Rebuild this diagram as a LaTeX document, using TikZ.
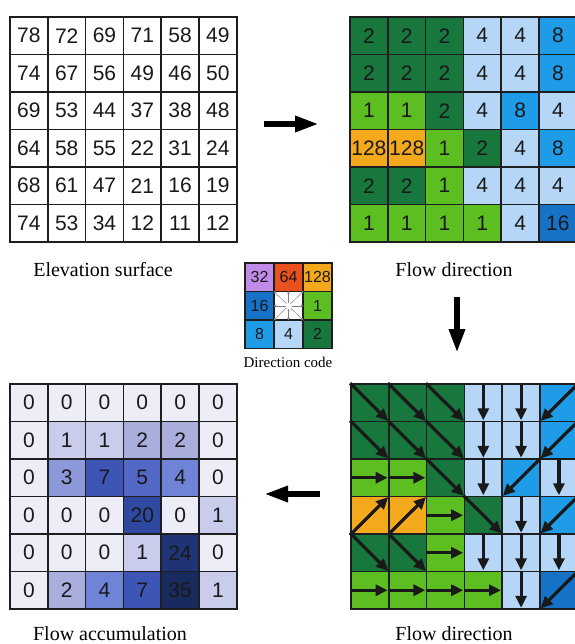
\documentclass[tikz,border=0pt]{standalone}
\usepackage{fontspec}
\setmainfont{Liberation Serif}
\newfontfamily\cellfont{Liberation Sans}
\usetikzlibrary{arrows.meta}

\definecolor{gridline}{HTML}{1E1E1E}
% direction code colours
\definecolor{dc1}{HTML}{5DBE22}
\definecolor{dc2}{HTML}{18773C}
\definecolor{dc4}{HTML}{B5D6F6}
\definecolor{dc8}{HTML}{1F9CE8}
\definecolor{dc16}{HTML}{1672C6}
\definecolor{dc32}{HTML}{C08BE8}
\definecolor{dc64}{HTML}{E9511E}
\definecolor{dc128}{HTML}{F4A91D}
% accumulation colours
\definecolor{ac0}{HTML}{EDEDF8}
\definecolor{ac1}{HTML}{C9CCEB}
\definecolor{ac2}{HTML}{A9AEDC}
\definecolor{ac3}{HTML}{8C98D9}
\definecolor{ac4}{HTML}{6F84D6}
\definecolor{ac5}{HTML}{5468C6}
\definecolor{ac7}{HTML}{3D55B5}
\definecolor{ac20}{HTML}{2F49A0}
\definecolor{ac24}{HTML}{1E3475}
\definecolor{ac35}{HTML}{182A5E}

\pgfkeys{/flow/.cd,
  from 1/.initial=west,         to 1/.initial=east,
  from 2/.initial=north west,   to 2/.initial=south east,
  from 4/.initial=north,        to 4/.initial=south,
  from 8/.initial=north east,   to 8/.initial=south west,
  from 16/.initial=north east,  to 16/.initial=south west,
  from 128/.initial=south west, to 128/.initial=north east}

\def\elevation{{78,72,69,71,58,49},{74,67,56,49,46,50},{69,53,44,37,38,48},{64,58,55,22,31,24},{68,61,47,21,16,19},{74,53,34,12,11,12}}
\def\flowcodes{{2,2,2,4,4,8},{2,2,2,4,4,8},{1,1,2,4,8,4},{128,128,1,2,4,8},{2,2,1,4,4,4},{1,1,1,1,4,16}}
\def\accum{{0,0,0,0,0,0},{0,1,1,2,2,0},{0,3,7,5,4,0},{0,0,0,20,0,1},{0,0,0,1,24,0},{0,2,4,7,35,1}}

\begin{document}
\begin{tikzpicture}[
    x=1pt, y=-1pt,
    cell/.style={rectangle, draw=gridline, line width=1.6pt, minimum width=37.8pt, minimum height=37.5pt, inner sep=0pt, font=\cellfont\fontsize{21}{21}\selectfont, text=black!90},
    elevcell/.style={cell, fill=white},
    dircell/.style={cell, fill=dc#1},
    acccell/.style={cell, fill=ac#1},
    codecell/.style={rectangle, draw=gridline, line width=1.1pt, minimum width=29pt, minimum height=28.5pt, inner sep=0pt, fill=dc#1, font=\cellfont\fontsize{16}{16}\selectfont, text=black!90},
    caption/.style={font=\fontsize{20}{20}\selectfont},
    bigarrow/.style={-{Triangle[length=24pt,width=15pt]}, line width=6pt},
    cellarrow/.style={-{Triangle[length=12pt,width=11pt]}, line width=3.2pt, black!90, shorten >=2pt},
    tinyarrow/.style={-{Stealth[length=3pt,width=2.5pt]}, line width=0.5pt, gray, shorten <=3pt}
]
    \useasboundingbox (0,0) rectangle (574,644);
    \fill[white] (0,0) rectangle (574,644);

    % elevation surface
    \foreach \row [count=\r] in \elevation {
        \foreach \v [count=\c] in \row {
            \node[elevcell] (e-\r-\c) at ({10+37.8*(\c-0.5)},{17+37.5*(\r-0.5)}) {\v};
        }
    }
    % flow direction (codes)
    \foreach \row [count=\r] in \flowcodes {
        \foreach \v [count=\c] in \row {
            \node[dircell=\v] (f-\r-\c) at ({350+37.8*(\c-0.5)},{17+37.5*(\r-0.5)}) {\v};
        }
    }
    % flow accumulation
    \foreach \row [count=\r] in \accum {
        \foreach \v [count=\c] in \row {
            \node[acccell=\v] (a-\r-\c) at ({10+37.8*(\c-0.5)},{384+37.5*(\r-0.5)}) {\v};
        }
    }
    % flow direction (arrows)
    \foreach \row [count=\r] in \flowcodes {
        \foreach \v [count=\c] in \row {
            \node[dircell=\v] (g-\r-\c) at ({351+37.8*(\c-0.5)},{384+37.5*(\r-0.5)}) {};
            \edef\from{\pgfkeysvalueof{/flow/from \v}}
            \edef\to{\pgfkeysvalueof{/flow/to \v}}
            \draw[cellarrow] (g-\r-\c.\from) -- (g-\r-\c.\to);
        }
    }

    % direction code
    \foreach \v/\c/\r in {32/1/1,64/2/1,128/3/1,16/1/2,1/3/2,8/1/3,4/2/3,2/3/3} {
        \node[codecell=\v] (k-\v) at ({245+29*(\c-0.5)},{263+28.5*(\r-0.5)}) {\v};
    }
    \node[codecell=4, fill=white] (k-c) at (288.5,305.75) {};
    \foreach \a in {north,south,east,west,north east,north west,south east,south west}
        \draw[tinyarrow] (k-c.center) -- (k-c.\a);

    % arrows between panels
    \coordinate (r-tail) at (264,124);
    \coordinate (r-head) at (319,124);
    \coordinate (d-tail) at (457,297);
    \coordinate (d-head) at (457,353);
    \coordinate (l-tail) at (320,494);
    \coordinate (l-head) at (264,494);
    \draw[bigarrow] (r-tail) -- (r-head);
    \draw[bigarrow] (d-tail) -- (d-head);
    \draw[bigarrow] (l-tail) -- (l-head);

    % captions
    \node[caption] (cap-elev) at (103,270) {Elevation surface};
    \node[caption] (cap-dir1) at (454,270) {Flow direction};
    \node[font=\fontsize{15}{15}\selectfont] (cap-code) at (288,362) {Direction code};
    \node[caption] (cap-acc) at (110,634) {Flow accumulation};
    \node[caption] (cap-dir2) at (454,634) {Flow direction};
\end{tikzpicture}
\end{document}
